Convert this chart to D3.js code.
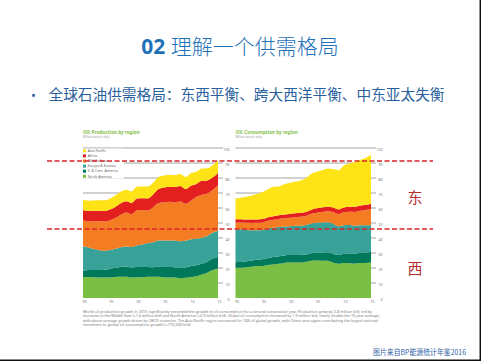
<!DOCTYPE html>
<html>
<head>
<meta charset="utf-8">
<script src="https://cdn.jsdelivr.net/npm/d3@7"></script>
<style>
body { margin: 0; background: #fff; }
svg { display: block; }
</style>
</head>
<body>
<div id="slide"></div>
<script>
// years 1990-2015, million barrels daily
const years = [1990, 1991, 1992, 1993, 1994, 1995, 1996, 1997, 1998, 1999, 2000, 2001, 2002,
    2003, 2004, 2005, 2006, 2007, 2008, 2009, 2010, 2011, 2012, 2013, 2014, 2015];
const regions = ["North America", "S. & Cent. America", "Europe & Eurasia", "Middle East", "Africa", "Asia Pacific"];

const prodNorthAmerica = [13.9, 14.0, 13.9, 13.7, 13.6, 13.7, 14.0, 14.2, 14.2, 13.7, 13.9, 13.9, 14.1, 14.2, 14.1, 13.7, 13.7, 13.7, 13.2, 13.5, 14.0, 14.5, 15.6, 16.9, 18.7, 19.7];
const prodSCAmerica = [4.5, 4.7, 4.8, 5.0, 5.3, 5.7, 6.1, 6.5, 6.8, 6.6, 6.8, 6.7, 6.6, 6.3, 6.7, 6.9, 6.9, 6.7, 6.8, 6.8, 7.3, 7.4, 7.3, 7.3, 7.6, 7.7];
const prodEurope = [16.1, 15.0, 13.9, 13.2, 12.6, 12.6, 12.8, 13.2, 13.3, 13.7, 14.4, 15.1, 15.9, 16.7, 17.5, 17.7, 17.7, 18.0, 17.8, 17.8, 17.8, 17.6, 17.3, 17.2, 17.2, 17.5];
const prodMiddleEast = [17.5, 17.3, 18.5, 19.2, 19.5, 19.9, 20.4, 21.6, 22.7, 21.9, 23.4, 22.9, 21.8, 23.3, 25.0, 25.5, 25.9, 25.3, 26.5, 24.7, 25.7, 28.0, 28.5, 28.2, 28.5, 30.1];
const prodAfrica = [6.7, 7.0, 7.0, 7.0, 7.0, 7.1, 7.4, 7.6, 7.5, 7.5, 7.8, 7.9, 8.0, 8.5, 9.3, 9.9, 10.0, 10.3, 10.3, 9.9, 10.1, 8.5, 9.4, 8.8, 8.3, 8.4];
const prodAsiaPacific = [6.8, 6.9, 6.9, 7.0, 7.1, 7.4, 7.6, 7.7, 7.7, 7.7, 7.9, 7.8, 7.9, 7.9, 8.0, 8.0, 8.0, 8.0, 8.1, 8.0, 8.4, 8.1, 8.2, 8.1, 8.2, 8.3];

const consNorthAmerica = [20.1, 20.1, 20.5, 20.8, 21.4, 21.4, 22.0, 22.4, 22.8, 23.4, 23.6, 23.6, 23.7, 24.1, 24.9, 25.0, 24.9, 24.9, 23.7, 22.9, 23.4, 23.2, 22.9, 23.3, 23.4, 23.6];
const consSCAmerica = [3.8, 3.9, 4.0, 4.1, 4.3, 4.5, 4.7, 4.9, 5.0, 5.0, 5.0, 5.0, 5.0, 4.9, 5.0, 5.2, 5.3, 5.6, 5.8, 5.8, 6.1, 6.4, 6.6, 6.9, 7.0, 7.1];
const consEurope = [22.0, 21.8, 20.9, 20.2, 19.4, 19.4, 19.6, 19.5, 19.5, 19.3, 19.3, 19.5, 19.5, 19.6, 19.8, 20.0, 20.2, 20.0, 20.0, 19.1, 19.0, 19.0, 18.6, 18.3, 18.1, 18.0];
const consMiddleEast = [4.4, 4.5, 4.7, 4.9, 5.0, 5.1, 5.2, 5.3, 5.4, 5.5, 5.6, 5.8, 6.0, 6.1, 6.4, 6.7, 7.0, 7.3, 7.8, 8.1, 8.6, 8.9, 9.3, 9.7, 10.2, 10.8];
const consAfrica = [2.2, 2.2, 2.2, 2.3, 2.3, 2.3, 2.4, 2.4, 2.5, 2.5, 2.5, 2.6, 2.6, 2.7, 2.8, 2.9, 2.9, 3.0, 3.1, 3.2, 3.3, 3.3, 3.4, 3.4, 3.4, 3.4];
const consAsiaPacific = [13.8, 14.4, 15.2, 16.0, 16.9, 17.9, 18.6, 19.6, 19.2, 20.1, 20.8, 21.0, 21.6, 22.4, 23.9, 24.4, 24.9, 25.6, 25.6, 26.1, 27.9, 28.8, 29.9, 30.6, 31.2, 32.6];

const yTicks = [0, 10, 20, 30, 40, 50, 60, 70, 80, 90, 100];
const xTicks = [1990, 1995, 2000, 2005, 2010, 2015];
const legendOrder = ["Asia Pacific", "Africa", "Middle East", "Europe & Eurasia", "S. & Cent. America", "North America"];

const caption = [
    "World oil production growth in 2015 significantly exceeded the growth in oil consumption for a second consecutive year. Production grew by 2.8 million b/d, led by",
    "increases in the Middle East (+1.6 million b/d) and North America (+0.9 million b/d). Global oil consumption increased by 1.9 million b/d, nearly double the 10-year average,",
    "with above-average growth driven by OECD countries. The Asia Pacific region accounted for 74% of global growth, with China once again contributing the largest national",
    "increment to global oil consumption growth (+770,000 b/d)."
];

const colors = {
    "North America": "#7abf43",
    "S. & Cent. America": "#00785a",
    "Europe & Eurasia": "#38a299",
    "Middle East": "#f47d23",
    "Africa": "#e3201f",
    "Asia Pacific": "#fee317"
};

function makeRows(series) {
    return years.map((yr, i) => {
        const row = {year: yr};
        regions.forEach((r, j) => row[r] = series[j][i]);
        return row;
    });
}

const W = 481, H = 361;
const svg = d3.select("#slide").append("svg")
    .attr("width", W).attr("height", H)
    .style("font-family", "'Noto Sans', 'Liberation Sans', sans-serif");

svg.append("rect").attr("width", W).attr("height", H).attr("fill", "#fff");

// slide title
const title = svg.append("text")
    .attr("x", 240).attr("y", 53.5)
    .attr("text-anchor", "middle")
    .attr("fill", "#1f72b8")
    .style("font-size", "21px");
title.append("tspan").attr("font-weight", "bold").style("font-family", "'Open Sans', 'Noto Sans', sans-serif").text("02 ");
title.append("tspan").style("font-family", "'Noto Sans CJK SC', sans-serif").style("font-weight", "300").text("理解一个供需格局");

svg.append("text")
    .attr("x", 31).attr("y", 99.5)
    .attr("fill", "#2a5f9e")
    .style("font-size", "13px")
    .text("•");
svg.append("text")
    .attr("x", 48.5).attr("y", 100)
    .attr("fill", "#2a5f9e")
    .attr("textLength", 396).attr("lengthAdjust", "spacingAndGlyphs")
    .style("font-family", "'Noto Sans CJK SC', sans-serif")
    .style("font-size", "14.5px")
    .style("font-weight", "400")
    .text("全球石油供需格局：东西平衡、跨大西洋平衡、中东亚太失衡");

const y = d3.scaleLinear().domain([0, 100]).range([298, 148]);

function drawPanel(opts) {
    const g = svg.append("g");
    const x = d3.scaleLinear().domain([1990, 2015]).range([opts.x0, opts.x1]);
    const stacked = d3.stack().keys(regions)(makeRows(opts.series));

    g.append("text")
        .attr("x", opts.x0).attr("y", 134)
        .attr("fill", "#86c04a")
        .style("font-size", "4.6px").style("font-weight", "bold")
        .text(opts.title);
    g.append("text")
        .attr("x", opts.x0).attr("y", 138.3)
        .attr("fill", "#999")
        .style("font-size", "2.9px")
        .text("Million barrels daily");

    g.selectAll(".grid")
        .data(yTicks.slice(1))
        .enter().append("line")
        .attr("x1", opts.x0).attr("x2", opts.x1 + 5)
        .attr("y1", d => y(d)).attr("y2", d => y(d))
        .attr("stroke", "#444").attr("stroke-width", 0.5);

    const area = d3.area()
        .curve(d3.curveMonotoneX)
        .x(d => x(d.data.year))
        .y0(d => y(d[0]))
        .y1(d => y(d[1]));

    g.selectAll(".layer")
        .data(stacked)
        .enter().append("path")
        .attr("d", area)
        .attr("fill", d => colors[d.key]);

    const yAxis = g.append("g")
        .attr("transform", "translate(" + (opts.x1 + 11.5) + ",1.5)")
        .call(d3.axisRight(y).tickValues(yTicks).tickSize(0).tickPadding(0));
    yAxis.select(".domain").remove();
    yAxis.selectAll("text")
        .attr("text-anchor", "end")
        .attr("fill", "#777")
        .style("font-size", "3.6px")
        .style("font-family", "'Noto Sans', sans-serif");

    const xAxis = g.append("g")
        .attr("transform", "translate(1,300)")
        .call(d3.axisBottom(x).tickValues(xTicks).tickSize(0).tickPadding(0)
            .tickFormat(d => String(d).slice(2)));
    xAxis.select(".domain").remove();
    xAxis.selectAll("text")
        .attr("fill", "#777")
        .style("font-size", "3.6px")
        .style("font-family", "'Noto Sans', sans-serif");

    if (opts.legend) {
        const lg = g.append("g");
        lg.append("rect")
            .attr("x", opts.x0 - 1).attr("y", 148.6)
            .attr("width", 42).attr("height", 30)
            .attr("fill", "#fff");
        const items = lg.selectAll(".item")
            .data(legendOrder)
            .enter().append("g")
            .attr("transform", (d, i) => "translate(" + opts.x0 + "," + (149.3 + i * 5.1) + ")");
        items.append("rect")
            .attr("width", 3).attr("height", 3)
            .attr("fill", d => colors[d]);
        items.append("text")
            .attr("x", 4.7).attr("y", 2.7)
            .attr("fill", "#666")
            .style("font-size", "3.5px")
            .text(d => d);
    }
}

drawPanel({
    x0: 83, x1: 218, title: "Oil: Production by region", legend: true,
    series: [prodNorthAmerica, prodSCAmerica, prodEurope, prodMiddleEast, prodAfrica, prodAsiaPacific]
});
drawPanel({
    x0: 235.5, x1: 371, title: "Oil: Consumption by region", legend: false,
    series: [consNorthAmerica, consSCAmerica, consEurope, consMiddleEast, consAfrica, consAsiaPacific]
});

// caption under the charts
svg.selectAll(".caption")
    .data(caption)
    .enter().append("text")
    .attr("x", 83)
    .attr("y", (d, i) => 312.5 + i * 4.5)
    .attr("fill", "#777")
    .style("font-size", "3.9px")
    .each(function (d, i) {
        if (i < 3) d3.select(this).attr("textLength", [289, 297, 295][i]).attr("lengthAdjust", "spacingAndGlyphs");
    })
    .text(d => d);

// red dashed markers
[161, 229].forEach(v => {
    svg.append("line")
        .attr("x1", 47).attr("x2", 433)
        .attr("y1", v).attr("y2", v)
        .attr("stroke", "#d8262a").attr("stroke-width", 1.3)
        .attr("stroke-dasharray", "5,2.5");
});

svg.append("text").attr("x", 415).attr("y", 202.5)
    .attr("text-anchor", "middle").attr("fill", "#b52f2f")
    .style("font-family", "'Noto Sans CJK SC', sans-serif").style("font-size", "15px")
    .text("东");
svg.append("text").attr("x", 415).attr("y", 273.5)
    .attr("text-anchor", "middle").attr("fill", "#b52f2f")
    .style("font-family", "'Noto Sans CJK SC', sans-serif").style("font-size", "15px")
    .text("西");

svg.append("text").attr("x", 373).attr("y", 355)
    .attr("fill", "#2f62a6")
    .attr("textLength", 93).attr("lengthAdjust", "spacingAndGlyphs")
    .style("font-family", "'Noto Sans CJK SC', sans-serif").style("font-size", "7.6px")
    .text("图片来自BP能源统计年鉴2016");

// slide border
svg.append("line").attr("x1", 0).attr("x2", W).attr("y1", 360.3).attr("y2", 360.3)
    .attr("stroke", "#111").attr("stroke-width", 1.5);
svg.append("line").attr("x1", 480.3).attr("x2", 480.3).attr("y1", 0).attr("y2", H)
    .attr("stroke", "#111").attr("stroke-width", 1.5);
</script>
</body>
</html>
